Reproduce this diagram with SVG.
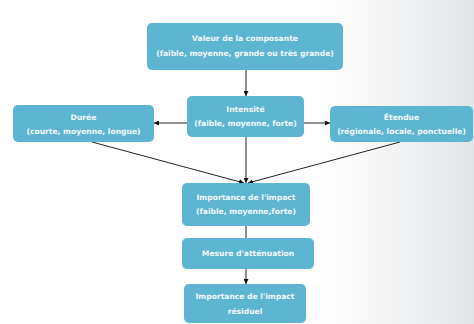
<svg xmlns="http://www.w3.org/2000/svg" width="474" height="324" viewBox="0 0 474 324">
<defs>
<linearGradient id="bg" x1="0" y1="0" x2="1" y2="0">
<stop offset="0" stop-color="#ffffff"/>
<stop offset="0.68" stop-color="#ffffff"/>
<stop offset="0.85" stop-color="#f0f1f2"/>
<stop offset="1" stop-color="#e2e5e8"/>
</linearGradient>
<marker id="ah" viewBox="0 0 10 10" refX="10" refY="5" markerWidth="5" markerHeight="5" orient="auto" markerUnits="userSpaceOnUse">
<path d="M0,0 L10,5 L0,10 Z" fill="#111"/>
</marker>
<style>
.box{fill:#5db5d2;}
.t{font-family:"DejaVu Sans",Verdana,sans-serif;font-weight:bold;font-size:7.6px;fill:#f4f8fa;text-anchor:middle;}
.c{stroke:#222;stroke-width:1;fill:none;}
</style>
</defs>
<rect x="0" y="0" width="474" height="324" fill="url(#bg)"/>
<g id="connectors">
<line class="c" x1="246" y1="70" x2="246" y2="96" marker-end="url(#ah)"/>
<line class="c" x1="187" y1="123" x2="154" y2="123" marker-end="url(#ah)"/>
<line class="c" x1="304" y1="123" x2="330" y2="123" marker-end="url(#ah)"/>
<line class="c" x1="92" y1="142" x2="244" y2="183" marker-end="url(#ah)"/>
<line class="c" x1="400" y1="142" x2="248" y2="183" marker-end="url(#ah)"/>
<line class="c" x1="246" y1="137" x2="246" y2="183" marker-end="url(#ah)"/>
<line class="c" x1="246" y1="226" x2="246" y2="238"/>
<line class="c" x1="246" y1="269" x2="246" y2="284" marker-end="url(#ah)"/>
</g>
<g id="valeur">
<rect class="box" x="147" y="23" width="196" height="47" rx="5"/>
<text class="t" x="245" y="41">Valeur de la composante</text>
<text class="t" x="245" y="56">(faible, moyenne, grande ou très grande)</text>
</g>
<g id="intensite">
<rect class="box" x="187" y="96" width="117" height="41" rx="5"/>
<text class="t" x="245.5" y="112">Intensité</text>
<text class="t" x="245.5" y="126">(faible, moyenne, forte)</text>
</g>
<g id="duree">
<rect class="box" x="13" y="105" width="141" height="37" rx="5"/>
<text class="t" x="83.5" y="120">Durée</text>
<text class="t" x="83.5" y="134">(courte, moyenne, longue)</text>
</g>
<g id="etendue">
<rect class="box" x="330" y="106" width="143" height="36" rx="5"/>
<text class="t" x="401.5" y="120">Étendue</text>
<text class="t" x="401.5" y="134">(régionale, locale, ponctuelle)</text>
</g>
<g id="importance">
<rect class="box" x="182" y="183" width="128" height="43" rx="5"/>
<text class="t" x="246" y="200">Importance de l'impact</text>
<text class="t" x="246" y="214">(faible, moyenne,forte)</text>
</g>
<g id="mesure">
<rect class="box" x="182" y="238" width="132" height="31" rx="5"/>
<text class="t" x="248" y="256">Mesure d'atténuation</text>
</g>
<g id="residuel">
<rect class="box" x="184" y="284" width="122" height="39" rx="5"/>
<text class="t" x="245" y="299">Importance de l'impact</text>
<text class="t" x="245" y="314">résiduel</text>
</g>
</svg>
